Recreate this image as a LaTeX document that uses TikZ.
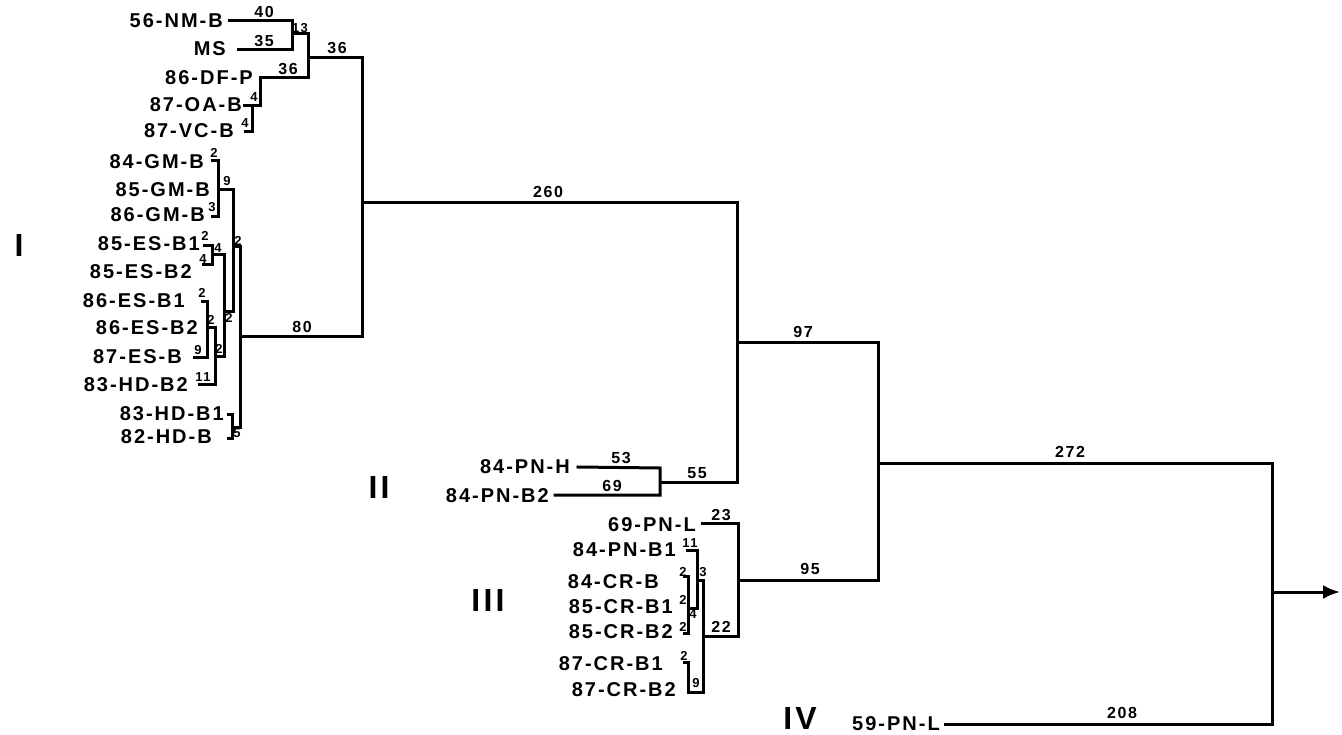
\documentclass[tikz,border=0pt]{standalone}
\usepackage{fontspec}
\setmainfont{Liberation Sans}[LetterSpace=10]
\usetikzlibrary{arrows.meta}
\tikzset{
  br/.style={line width=3pt, line cap=rect, line join=miter},
  leaf/.style={anchor=east, inner sep=0pt, text depth=0pt, font=\bfseries\fontsize{20}{22}\selectfont},
  len/.style={inner sep=0pt, text depth=0pt, font=\bfseries\fontsize{16}{17}\selectfont},
  sm/.style={inner sep=0pt, text depth=0pt, font=\bfseries\fontsize{13}{14}\selectfont},
  grp/.style={inner sep=0pt, text depth=0pt, font=\bfseries\fontsize{32}{34}\selectfont},
}
\begin{document}
\begin{tikzpicture}[x=1pt,y=-1pt]
\useasboundingbox (0,0) rectangle (1342,735);
% ---------- group labels
\node[grp] (gI) at (19,245) {I};
\node[grp] (gII) at (379,487) {II};
\node[grp] (gIII) at (488,600) {III};
\node[grp] (gIV) at (800,718) {IV};
% ---------- group I leaves
\node[leaf] (l1) at (223,21) {56-NM-B};
\node[leaf] (l2) at (226,49) {MS};
\node[leaf] (l3) at (253,78) {86-DF-P};
\node[leaf] (l4) at (242,105) {87-OA-B};
\node[leaf] (l5) at (234,131) {87-VC-B};
\node[leaf] (l6) at (204,162) {84-GM-B};
\node[leaf] (l7) at (210,190) {85-GM-B};
\node[leaf] (l8) at (205,215) {86-GM-B};
\node[leaf] (l9) at (200,244) {85-ES-B1};
\node[leaf] (l10) at (192,272) {85-ES-B2};
\node[leaf] (l11) at (185,301) {86-ES-B1};
\node[leaf] (l12) at (198,328) {86-ES-B2};
\node[leaf] (l13) at (182,357) {87-ES-B};
\node[leaf] (l14) at (188,385) {83-HD-B2};
\node[leaf] (l15) at (224,414) {83-HD-B1};
\node[leaf] (l16) at (212,437) {82-HD-B};
% ---------- group II/III/IV leaves
\node[leaf] (p1) at (570,467) {84-PN-H};
\node[leaf] (p2) at (549,496) {84-PN-B2};
\node[leaf] (p3) at (696,525) {69-PN-L};
\node[leaf] (p4) at (676,550) {84-PN-B1};
\node[leaf] (p5) at (659,582) {84-CR-B};
\node[leaf] (p6) at (673,607) {85-CR-B1};
\node[leaf] (p7) at (673,632) {85-CR-B2};
\node[leaf] (p8) at (663,664) {87-CR-B1};
\node[leaf] (p9) at (676,690) {87-CR-B2};
\node[leaf] (p10) at (940,724) {59-PN-L};
% ---------- internal nodes
\coordinate (nA) at (292,34);
\coordinate (nB) at (308,58);
\coordinate (nC) at (362,203);
\coordinate (nD) at (240,337);
\coordinate (nE) at (737,343);
\coordinate (nF) at (660,482);
\coordinate (nG) at (878,463);
\coordinate (nH) at (738,580);
\coordinate (root) at (1272,592);
\coordinate (tip) at (1340,592);
% ---------- group I top branches
\draw[br] ([xshift=6pt]l1.east) -- (292,21) -- (292,50) -- ([xshift=12pt]l2.east |- 0,50);
\draw[br] (nA) -- (308,34) -- (308,78) -- (260,78) -- (260,106) -- (244,106);
\draw[br] (252,106) -- (252,132) -- (245,132);
\draw[br] (nB) -- (362,58) -- (362,337) -- (nD);
% ---------- group I lower branches
\draw[br] (212,161) -- (218,161) -- (218,217) -- (212,217);
\draw[br] (218,190) -- (233,190) -- (233,312) -- (224,312);
\draw[br] (204,246) -- (212,246) -- (212,265) -- (203,265);
\draw[br] (212,255) -- (224,255) -- (224,357) -- (215,357);
\draw[br] (202,302) -- (207,302) -- (207,358) -- (194,358);
\draw[br] (207,328) -- (215,328) -- (215,385) -- (199,385);
\draw[br] (233,247) -- (240,247) -- (240,427) -- (232,427);
\draw[br] (228,414) -- (232,414) -- (232,438) -- (228,438);
% ---------- backbone
\draw[br] (362,203) -- (737,203) -- (nE) -- (737,482) -- (nF);
\draw[br] (nE) -- (878,343) -- (nG) -- (878,580) -- (nH);
\draw[br] (nG) -- (1272,463) -- (1272,724) -- ([xshift=5pt]p10.east);
\draw[br, -{Latex[length=17pt,width=14pt]}] (root) -- (tip);
% ---------- group II
\draw[br] ([xshift=8pt]p1.east) -- (660,468) -- (660,495) -- ([xshift=6pt]p2.east |- 0,495);
% ---------- group III
\draw[br] ([xshift=6pt]p3.east |- 0,523) -- (738,523) -- (738,636) -- (703,636);
\draw[br] (687,550) -- (697,550) -- (697,608) -- (688,608);
\draw[br] (684,576) -- (688,576) -- (688,633) -- (684,633);
\draw[br] (697,580) -- (703,580) -- (703,692) -- (688,692) -- (688,662) -- (684,662);
% ---------- branch lengths
\node[len] at (264,12) {40};
\node[len] at (264,41) {35};
\node[sm] at (300,28) {13};
\node[len] at (337,48) {36};
\node[len] at (288,69) {36};
\node[sm] at (254,97) {4};
\node[sm] at (245,123) {4};
\node[len] at (548,192) {260};
\node[len] at (302,327) {80};
\node[len] at (803,332) {97};
\node[len] at (697,473) {55};
\node[len] at (621,458) {53};
\node[len] at (612,486) {69};
\node[len] at (1070,452) {272};
\node[len] at (721,515) {23};
\node[len] at (810,569) {95};
\node[len] at (721,627) {22};
\node[len] at (1122,713) {208};
% small labels group I
\node[sm] at (214,153) {2};
\node[sm] at (227,181) {9};
\node[sm] at (212,207) {3};
\node[sm] at (205,236) {2};
\node[sm] at (218,248) {4};
\node[sm] at (203,259) {4};
\node[sm] at (238,241) {2};
\node[sm] at (202,293) {2};
\node[sm] at (211,320) {2};
\node[sm] at (229,318) {2};
\node[sm] at (198,350) {9};
\node[sm] at (219,349) {2};
\node[sm] at (203,377) {11};
\node[sm] at (237,433) {5};
% small labels group III
\node[sm] at (690,543) {11};
\node[sm] at (703,572) {3};
\node[sm] at (683,572) {2};
\node[sm] at (683,600) {2};
\node[sm] at (693,614) {4};
\node[sm] at (683,627) {2};
\node[sm] at (684,656) {2};
\node[sm] at (696,683) {9};
\end{tikzpicture}
\end{document}
